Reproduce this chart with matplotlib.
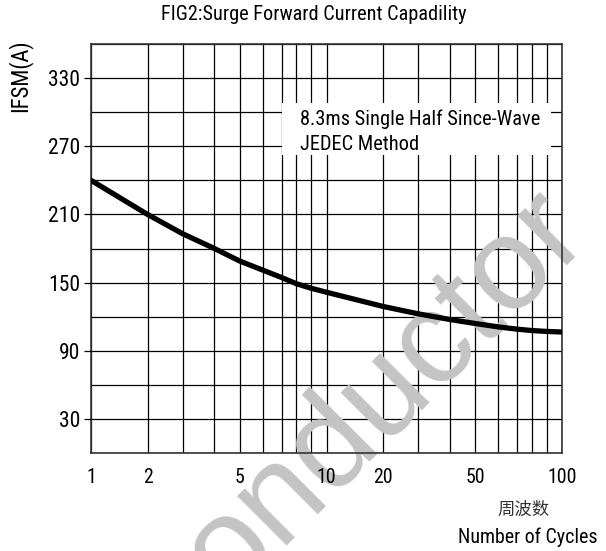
import numpy as np
import matplotlib
matplotlib.use("Agg")
import matplotlib.pyplot as plt
from matplotlib import font_manager as fm
from matplotlib.patches import Rectangle

# 데이터
cycles = [1, 2, 3, 4, 5, 6, 7, 8, 9, 10, 20, 30, 40, 50, 60, 70, 80, 90, 100]
ifsm = [240, 210, 193, 180, 169, 161, 154.5, 149, 145, 141.5,
        129, 122.5, 117.5, 114, 111, 109, 107.8, 107, 106.5]

x_ticks = [1, 2, 5, 10, 20, 50, 100]
x_grid = [1, 2, 3, 4, 5, 6, 7, 8, 9, 10, 20, 30, 40, 50, 60, 70, 80, 90, 100]
y_ticks = [30, 90, 150, 210, 270, 330]
y_grid = list(range(0, 361, 30))

title = "FIG2:Surge Forward Current Capadility"
note_lines = ["8.3ms Single Half Since-Wave", "JEDEC Method"]

# 원본 차트의 눈금 간격 (한 decade 안에서의 위치 비율)
MANT = [1, 2, 3, 4, 5, 6, 7, 8, 9, 10]
FRAC = [0, 0.24, 0.389, 0.524, 0.631, 0.729, 0.809, 0.872, 0.935, 1.0]


def fwd(x):
    x = np.clip(np.asarray(x, dtype=float), 1e-6, None)
    d = np.floor(np.log10(x) + 1e-9)
    m = x / 10.0 ** d
    return d + np.interp(m, MANT, FRAC)


def inv(y):
    y = np.asarray(y, dtype=float)
    d = np.floor(y + 1e-9)
    return 10.0 ** d * np.interp(y - d, FRAC, MANT)


def pick_font():
    # 좁은 글꼴이 있으면 사용 (원본은 Arial Narrow 계열)
    entries = fm.fontManager.ttflist
    for fam, stretch in [("Liberation Sans Narrow", None), ("Roboto Condensed", None),
                         ("Open Sans Condensed", None), ("DejaVu Sans", "condensed"),
                         ("Liberation Sans", None)]:
        for f in entries:
            if f.name == fam and (stretch is None or str(f.stretch) == stretch):
                return fam, (stretch or "normal")
    return "DejaVu Sans", "normal"


FAM, STRETCH = pick_font()
plt.rcParams["font.family"] = [FAM, "DejaVu Sans"]
plt.rcParams["font.stretch"] = STRETCH

fig = plt.figure(figsize=(6.06, 5.51), dpi=100)
ax = fig.add_axes([91 / 606, 1 - 453 / 551, 471 / 606, 409 / 551])

ax.set_xscale("function", functions=(fwd, inv))
ax.set_xlim(1, 100)
ax.set_ylim(0, 360)

# 격자
for v in x_grid:
    ax.axvline(v, color="black", lw=0.9, zorder=1)
for v in y_grid:
    ax.axhline(v, color="black", lw=0.9, zorder=1)

ax.plot(cycles, ifsm, color="black", lw=3.8, solid_capstyle="round", zorder=4)

renderer = fig.canvas.get_renderer()


def fit(t, target, vertical=False):
    # 원본 글자 폭에 맞게 글자 크기 조정
    bb = t.get_window_extent(renderer)
    w = bb.height if vertical else bb.width
    t.set_fontsize(t.get_fontsize() * target / w)
    return t.get_fontsize()


probe = fig.text(0, 0, "330", fontsize=15)
y_size = fit(probe, 32)
probe.set_text("10")
probe.set_fontsize(15)
x_size = fit(probe, 19.5)
probe.remove()

ax.set_xticks(x_ticks)
ax.set_xticklabels([str(t) for t in x_ticks])
ax.xaxis.set_minor_locator(plt.NullLocator())
ax.set_yticks(y_ticks)
ax.set_yticklabels([str(t) for t in y_ticks])
ax.tick_params(axis="x", length=0, pad=11, labelsize=x_size)
ax.tick_params(axis="y", length=5, width=0.9, direction="out", pad=3, labelsize=y_size)
ax.xaxis.set_zorder(3)
ax.yaxis.set_zorder(3)
for s in ax.spines.values():
    s.set_color("#333333")
    s.set_linewidth(1.2)

# 주석 박스
ax.add_patch(Rectangle((0.4055, 0.729), 0.571, 0.127, transform=ax.transAxes,
                       facecolor="white", edgecolor="none", zorder=3))
n1 = ax.text(0.444, 1 - (119 - 44) / 409, note_lines[0], transform=ax.transAxes,
             fontsize=15, va="center", ha="left", zorder=5)
note_size = fit(n1, 239)
ax.text(0.444, 1 - (144 - 44) / 409, note_lines[1], transform=ax.transAxes,
        fontsize=note_size, va="center", ha="left", zorder=5)

# 워터마크 (격자 위, 곡선과 눈금 글자 아래)
ax.text(591 / 606, 1 - 236 / 551, "onductor", transform=fig.transFigure,
        fontsize=95, family="Liberation Sans", stretch="normal", color="#c4c4c4",
        rotation=45, rotation_mode="anchor", ha="right", va="baseline",
        clip_on=False, zorder=1.2)

t = fig.text(313.5 / 606, 1 - 15 / 551, title, ha="center", va="center", fontsize=14.5)
fit(t, 303)
t = fig.text(19.5 / 606, 1 - 76 / 551, "IFSM(A)", ha="center", va="center",
             rotation=90, fontsize=16.5)
fit(t, 73, vertical=True)
fig.text(523 / 606, 1 - 510 / 551, "周波数", ha="center", va="center",
         fontsize=12.5, family=["Noto Sans CJK SC", "DejaVu Sans"], stretch="normal",
         color="#333333")
t = fig.text(528 / 606, 1 - 537 / 551, "Number of Cycles", ha="center", va="center",
             fontsize=15)
fit(t, 140)

fig.savefig("out.png", dpi=100)
